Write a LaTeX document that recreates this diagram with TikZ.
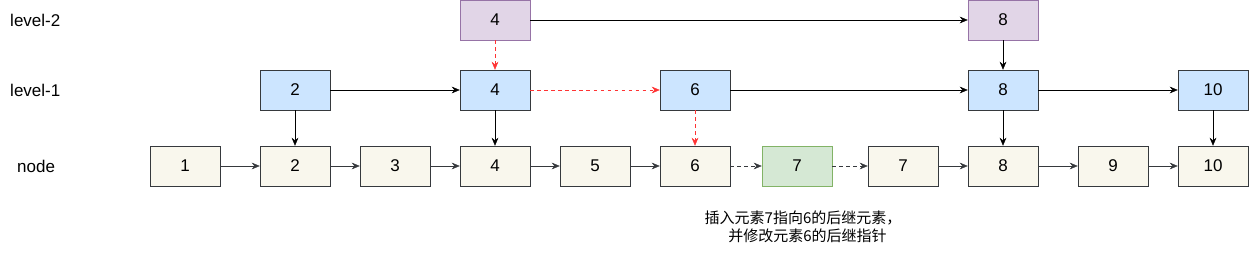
\documentclass[tikz,border=0pt]{standalone}
\usepackage{fontspec}
\setmainfont{Liberation Sans}
\newfontfamily\cjk{Noto Sans CJK SC}
\usetikzlibrary{arrows.meta,positioning}
\definecolor{nodefill}{HTML}{F9F7ED}
\definecolor{nodeline}{HTML}{36393D}
\definecolor{idxfill}{HTML}{CCE5FF}
\definecolor{topfill}{HTML}{E1D5E7}
\definecolor{topline}{HTML}{9673A6}
\definecolor{newfill}{HTML}{D5E8D4}
\definecolor{newline}{HTML}{82B366}
\definecolor{hint}{HTML}{FF3333}

\begin{document}
\begin{tikzpicture}[
  x=0.03cm, y=-0.03cm,
  every node/.style={font=\fontsize{14.5}{17}\selectfont},
  elem/.style={rectangle, draw=nodeline, fill=nodefill, minimum width=2.1cm,
    minimum height=1.2cm, inner sep=0pt},
  idx/.style={elem, fill=idxfill},
  topidx/.style={elem, draw=topline, fill=topfill},
  newelem/.style={elem, draw=newline, fill=newfill},
  arrow/.style={-{Stealth[length=2.4mm, width=2mm]}, black},
  linkarrow/.style={-{Stealth[length=2.4mm, width=2mm]}, nodeline},
  newarrow/.style={linkarrow, dashed},
  hintarrow/.style={-{Stealth[length=2.4mm, width=2mm]}, hint, dashed},
]
\useasboundingbox (0,0) rectangle (1249,256);

% Row labels
\node[anchor=west, inner sep=0pt] (lbl2) at (10,20) {level-2};
\node[anchor=west, inner sep=0pt] (lbl1) at (10,90) {level-1};
\node[anchor=west, inner sep=0pt] (lbl0) at (17,166) {node};

% Base list
\node[elem] (n1) at (185,166) {1};
\node[elem] (n2) at (295,166) {2};
\node[elem] (n3) at (395,166) {3};
\node[elem] (n4) at (495,166) {4};
\node[elem] (n5) at (595,166) {5};
\node[elem] (n6) at (695,166) {6};
\node[newelem] (nnew) at (797,166) {7};
\node[elem] (n7) at (903,166) {7};
\node[elem] (n8) at (1003,166) {8};
\node[elem] (n9) at (1113,166) {9};
\node[elem] (n10) at (1213,166) {10};

% Level 1
\node[idx] (a2) at (295,90) {2};
\node[idx] (a4) at (495,90) {4};
\node[idx] (a6) at (695,90) {6};
\node[idx] (a8) at (1003,90) {8};
\node[idx] (a10) at (1213,90) {10};

% Level 2
\node[topidx] (b4) at (495,20) {4};
\node[topidx] (b8) at (1003,20) {8};

% Note
\node[align=center, inner sep=0pt, font=\cjk\fontsize{12.8}{15.3}\selectfont] (note) at (803,227)
  {插入元素7指向6的后继元素，\\\hspace*{0.6em}并修改元素6的后继指针};

% Base links
\draw[linkarrow] (n1) -- (n2);
\draw[linkarrow] (n2) -- (n3);
\draw[linkarrow] (n3) -- (n4);
\draw[linkarrow] (n4) -- (n5);
\draw[linkarrow] (n5) -- (n6);
\draw[newarrow] (n6) -- (nnew);
\draw[newarrow] (nnew) -- (n7);
\draw[linkarrow] (n7) -- (n8);
\draw[linkarrow] (n8) -- (n9);
\draw[linkarrow] (n9) -- (n10);

% Level 1 links
\draw[arrow] (a2) -- (a4);
\draw[hintarrow] (a4) -- (a6);
\draw[arrow] (a6) -- (a8);
\draw[arrow] (a8) -- (a10);
\draw[arrow] (a2) -- (n2);
\draw[arrow] (a4) -- (n4);
\draw[hintarrow] (a6) -- (n6);
\draw[arrow] (a8) -- (n8);
\draw[arrow] (a10) -- (n10);

% Level 2 links
\draw[arrow] (b4) -- (b8);
\draw[hintarrow] (b4) -- (a4);
\draw[arrow] (b8) -- (a8);
\end{tikzpicture}
\end{document}
